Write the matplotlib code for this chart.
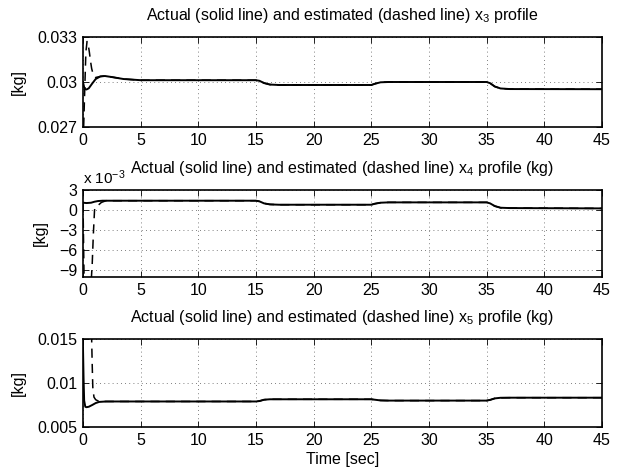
import matplotlib
matplotlib.use("Agg")
import matplotlib.pyplot as plt
import numpy as np

plt.rcParams['font.family'] = ['Liberation Sans', 'DejaVu Sans']
plt.rcParams['mathtext.fontset'] = 'custom'
plt.rcParams['mathtext.rm'] = 'Liberation Sans'
plt.rcParams['mathtext.it'] = 'Liberation Sans'

# ---------------- data ----------------
# x3 actual [kg]
t3_act = [0, 0.1, 0.2, 0.3, 0.5, 0.8, 1.1, 1.5, 1.9, 2.5, 3.5, 5, 15, 15.3, 15.7, 16.2, 17,
          25, 25.3, 25.8, 26.5, 35, 35.3, 35.7, 36.2, 37, 45]
x3_act = [0.0300, 0.02965, 0.02952, 0.02950, 0.02958, 0.02990, 0.03020, 0.03037, 0.03040,
          0.03033, 0.03020, 0.03012, 0.03012, 0.03008, 0.02993, 0.02983, 0.02980,
          0.02980, 0.02988, 0.02998, 0.03000, 0.03000, 0.02992, 0.02970, 0.02957, 0.02953, 0.02952]
# x3 estimated: initial transient, afterwards coincides with actual
t3_est0 = [0, 0.05, 0.15, 0.25, 0.35, 0.45, 0.55, 0.65, 0.75, 0.85, 1.0, 1.1]
x3_est0 = [0.0260, 0.0268, 0.0295, 0.0320, 0.0327, 0.0325, 0.0320, 0.0314, 0.0309, 0.0306, 0.03040, 0.03030]

# x4 actual [x 10^-3 kg]
t4_act = [0, 0.3, 0.7, 1.0, 1.3, 1.7, 2.5, 15, 15.3, 15.7, 16.2, 17, 25, 25.3, 25.8, 26.5,
          35, 35.3, 35.7, 36.2, 37, 45]
x4_act = [1.1, 1.05, 1.1, 1.25, 1.35, 1.4, 1.4, 1.4, 1.3, 1.0, 0.85, 0.8, 0.8, 0.95, 1.1, 1.15,
          1.15, 1.0, 0.6, 0.35, 0.3, 0.25]
# x4 estimated
t4_est0 = [0, 0.1, 0.7, 0.8, 0.9, 1.0, 1.1, 1.3, 1.6, 2.0]
x4_est0 = [1.0, -11.0, -11.0, -8.0, -3.5, 0.0, 0.5, 0.7, 1.15, 1.4]

# x5 actual [kg]
t5_act = [0, 0.05, 0.1, 0.2, 0.3, 0.5, 0.8, 1.1, 1.4, 2.0, 15, 15.3, 15.7, 16.2, 17,
          25, 25.3, 25.8, 26.5, 35, 35.3, 35.7, 36.2, 37, 45]
x5_act = [0.0140, 0.0105, 0.0080, 0.00730, 0.00725, 0.00730, 0.00750, 0.00772, 0.00785, 0.00790,
          0.00790, 0.00795, 0.00810, 0.00815, 0.00815, 0.00815, 0.00810, 0.00802, 0.00800,
          0.00800, 0.00808, 0.00825, 0.00832, 0.00833, 0.00833]
# x5 estimated
t5_est0 = [0, 0.05, 0.7, 0.75, 0.8, 0.85, 0.95, 1.1, 1.4, 2.0]
x5_est0 = [0.0140, 0.0170, 0.0170, 0.0150, 0.0120, 0.0095, 0.0084, 0.0081, 0.0079, 0.0079]

titles = [r"Actual (solid line) and estimated (dashed line) x$_3$ profile",
          r"Actual (solid line) and estimated (dashed line) x$_4$ profile (kg)",
          r"Actual (solid line) and estimated (dashed line) x$_5$ profile (kg)"]
xticks = [0, 5, 10, 15, 20, 25, 30, 35, 40, 45]
yticks1 = [0.027, 0.03, 0.033]
ylabels1 = ["0.027", "0.03", "0.033"]
yticks2 = [-9, -6, -3, 0, 3]
yticks3 = [0.005, 0.01, 0.015]
ylabels3 = ["0.005", "0.01", "0.015"]

# ---------------- figure ----------------
fig = plt.figure(figsize=(6.32, 4.73), dpi=100)
L, R = 83/632, 602/632
rects = [(L, 1-127/473, R-L, 90/473),
         (L, 1-277/473, R-L, 87/473),
         (L, 1-427/473, R-L, 88/473)]
axes = [fig.add_axes(r) for r in rects]

def est_series(t0, x0, ta, xa):
    tt = list(t0) + [t for t in ta if t > t0[-1]]
    xx = list(x0) + [x for t, x in zip(ta, xa) if t > t0[-1]]
    return tt, xx

series = [(t3_act, x3_act, t3_est0, x3_est0),
          (t4_act, x4_act, t4_est0, x4_est0),
          (t5_act, x5_act, t5_est0, x5_est0)]
ylims = [(0.027, 0.033), (-10, 3), (0.005, 0.015)]

for i, ax in enumerate(axes):
    ta, xa, te0, xe0 = series[i]
    te, xe = est_series(te0, xe0, ta, xa)
    ax.plot(te, xe, color='black', lw=1.1, ls=(0, (6, 4)), clip_on=True)
    ax.plot(ta, xa, color='black', lw=1.4)
    ax.set_xlim(0, 45)
    ax.set_ylim(*ylims[i])
    ax.set_xticks(xticks)
    ax.set_xticklabels([str(v) for v in xticks])
    ax.grid(True, ls=(0, (1, 4)), color='#555555', lw=0.6)
    ax.tick_params(direction='in', top=True, right=True, length=4, width=0.6,
                   labelsize=11.5, pad=4)
    for s in ax.spines.values():
        s.set_linewidth(1.2)
    ax.set_ylabel("[kg]", fontsize=11.5, labelpad=8)
    ax.set_title(titles[i], fontsize=11.5, pad=12)

axes[0].set_yticks(yticks1)
axes[0].set_yticklabels(ylabels1)
axes[1].set_yticks(yticks2)
axes[1].set_yticklabels(["\u2212" + str(-v) if v < 0 else str(v) for v in yticks2])
axes[2].set_yticks(yticks3)
axes[2].set_yticklabels(ylabels3)
axes[1].text(0.0, 1.04, r"x 10$^{-3}$", transform=axes[1].transAxes, fontsize=11,
             ha='left', va='bottom')
axes[2].set_xlabel("Time [sec]", fontsize=11.5, labelpad=3)

fig.savefig("out.png", dpi=100)
